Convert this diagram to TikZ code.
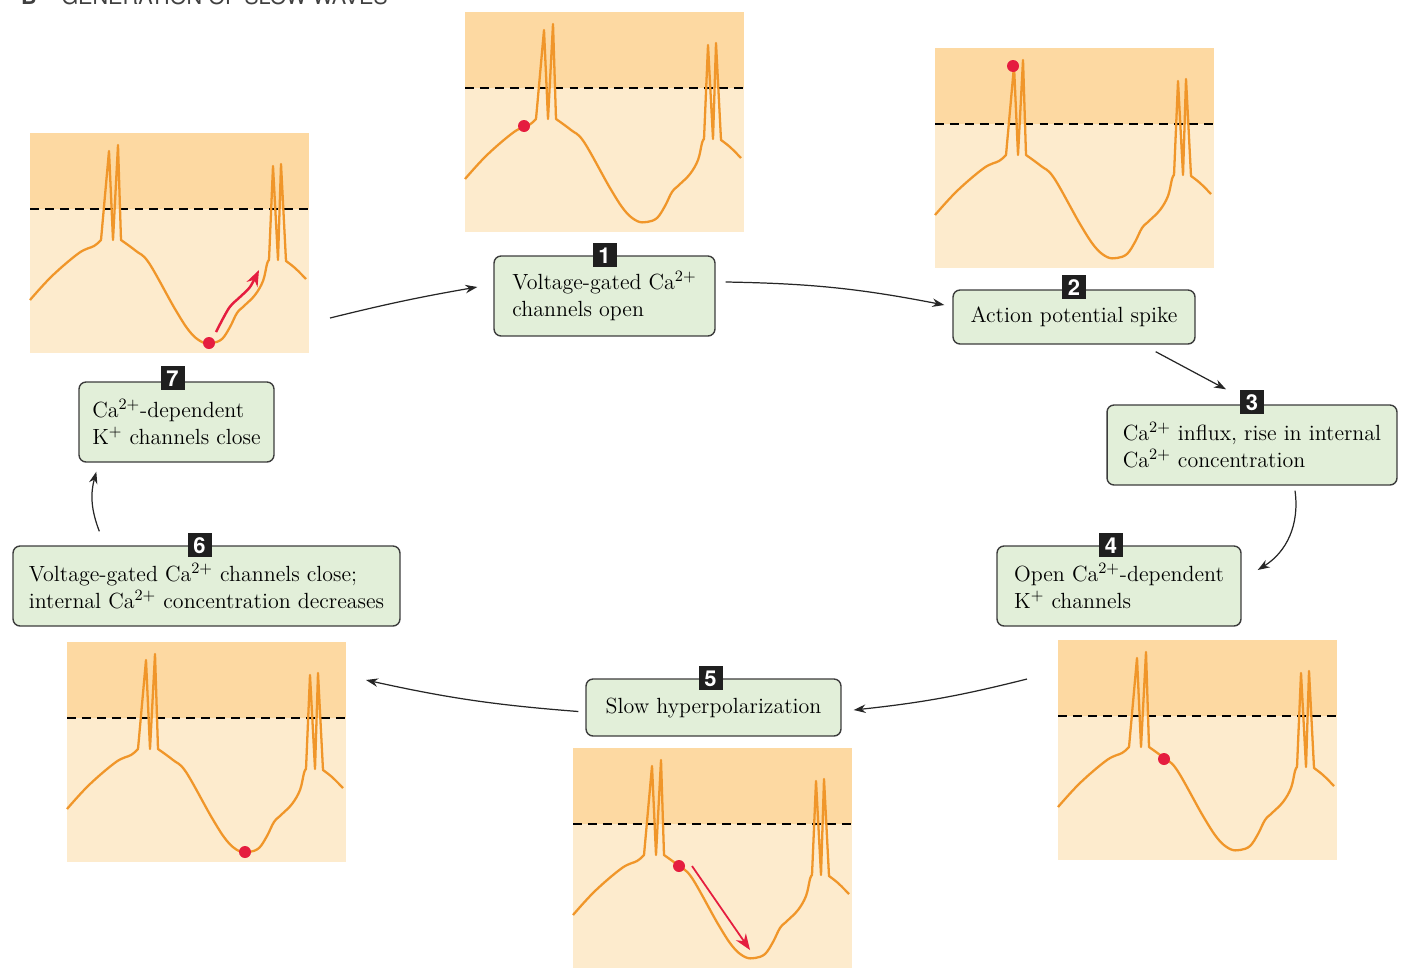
\documentclass[tikz,border=0pt]{standalone}
\usepackage{fontspec}
\newfontfamily\headfont{TeX Gyre Heros}
\usetikzlibrary{arrows.meta,calc,positioning}

\definecolor{bandlo}{HTML}{FDEBCD}
\definecolor{bandhi}{HTML}{FDD9A2}
\definecolor{tracec}{HTML}{F0962A}
\definecolor{marker}{HTML}{E51D3F}
\definecolor{boxfill}{HTML}{E2EFD9}
\definecolor{boxline}{HTML}{3C3C3C}

\tikzset{
  stepbox/.style={draw=boxline, fill=boxfill, rounded corners=4pt, line width=0.8pt,
    align=left, inner sep=0pt, font=\fontsize{12.5}{15.5}\selectfont},
  badge/.style={fill=black!88, text=white, font=\headfont\bfseries\fontsize{12.5}{12.5}\selectfont,
    minimum width=0.48cm, minimum height=0.48cm, inner sep=0pt},
  trace/.style={draw=tracec, line width=1.3pt, line join=round},
  thresh/.style={draw=black, line width=1pt, dash pattern=on 5pt off 3.5pt},
  flow/.style={draw=black!85, line width=0.7pt, -{Stealth[length=2.4mm,width=1.7mm]}},
  move/.style={draw=marker, line width=1.4pt, -{Stealth[length=3.2mm,width=2.4mm]}}
}

% membrane potential trace of one panel (panel is 279 x 220 units)
\newcommand\slowwave{%
  \draw[trace] plot[smooth, tension=0.6] coordinates {(0,167) (22,143) (49,120) (64,113) (71,107)}
    -- (79,18) -- (83,107) -- (88,12) -- (91,107)
    -- plot[smooth, tension=0.6] coordinates {(91,107) (106,118) (119,130) (145,176) (160,199)
       (172,209) (182,210) (192,206) (200,194) (207,180) (214,173) (225,162) (233,148) (237,131) (239,127)}
    -- (243,33) -- (248,127) -- (251,31) -- (256,128)
    -- plot[smooth, tension=0.6] coordinates {(256,128) (265,135) (276,146)};}

\begin{document}
\begin{tikzpicture}[x=0.02cm, y=-0.02cm]
  \useasboundingbox (0,0) rectangle (1408,970);

  \node[anchor=base west, text=black!75, font=\headfont\fontsize{12.3}{14}\selectfont] (title) at (15,5)
    {\textbf{B}\hspace{14pt}GENERATION OF SLOW WAVES};

  % panels: origin x/y, dot x/y
  \foreach \px/\py/\dx/\dy in {465/12/59/114, 935/48/78/18, 1058/640/106/119,
                               573/748/106/118, 67/642/178/210, 30/133/179/210}{
    \begin{scope}[shift={(\px,\py)}]
      \fill[bandlo] (0,0) rectangle (279,220);
      \fill[bandhi] (0,0) rectangle (279,76);
      \draw[thresh] (0,76) -- (279,76);
      \slowwave
      \fill[marker] (\dx,\dy) circle (0.12cm);
    \end{scope}
  }
  % red moves
  \draw[move] plot[smooth] coordinates {(216,332) (229,308) (240,297) (250,287) (259,270)};
  \draw[move, line width=1pt] (692,866) -- (750,950);

  % steps
  \node[stepbox, minimum width=4.42cm, minimum height=1.6cm] (b1) at (604.5,296)
    {Voltage-gated Ca$^{2+}$\\channels open};
  \node[stepbox, minimum width=4.84cm, minimum height=1.08cm] (b2) at (1074,317)
    {Action potential spike};
  \node[stepbox, minimum width=5.8cm, minimum height=1.6cm] (b3) at (1252,445)
    {Ca$^{2+}$ influx, rise in internal\\Ca$^{2+}$ concentration};
  \node[stepbox, minimum width=4.88cm, minimum height=1.6cm] (b4) at (1119,586)
    {Open Ca$^{2+}$-dependent\\K$^{+}$ channels\hspace{6.2em}};
  \node[stepbox, minimum width=5.1cm, minimum height=1.14cm] (b5) at (713.5,707.5)
    {Slow hyperpolarization};
  \node[stepbox, minimum width=7.74cm, minimum height=1.6cm] (b6) at (206.5,586)
    {Voltage-gated Ca$^{2+}$ channels close;\\internal Ca$^{2+}$ concentration decreases};
  \node[stepbox, minimum width=3.9cm, minimum height=1.6cm] (b7) at (176.5,422)
    {Ca$^{2+}$-dependent\\K$^{+}$ channels close};

  \node[badge] (n1) at (b1.north) {1};
  \node[badge] (n2) at ($(b2.north)+(0,-2)$) {2};
  \node[badge] (n3) at ($(b3.north)+(0,-2)$) {3};
  \node[badge] (n4) at ($(b4.north)+(-8,0)$) {4};
  \node[badge] (n5) at ($(b5.north)+(-3,0)$) {5};
  \node[badge] (n6) at ($(b6.north)+(-7,0)$) {6};
  \node[badge] (n7) at ($(b7.north)+(-4,-3)$) {7};

  % free ends near the traces
  \coordinate (c7) at (330,318);
  \coordinate (c4) at (1027,679);
  \coordinate (c6) at (366,680);

  \draw[flow] (c7) to[bend left=2] ($(b1.west)+(-16,-9)$);
  \draw[flow] ($(b1.east)+(10,-14)$) to[bend left=5] ($(b2.west)+(-8,-12)$);
  \draw[flow] ($(b2.south east)+(-40,7)$) -- ($(b3.north)+(-26,-15)$);
  \draw[flow] ($(b3.south)+(43,5)$) to[bend left=33] ($(b4.east)+(16,-16)$);
  \draw[flow] (c4) to[bend left=4] ($(b5.east)+(12,2.5)$);
  \draw[flow] ($(b5.west)+(-7,4)$) to[bend left=4] (c6);
  \draw[flow] ($(b6.north west)+(87,-14)$) to[bend left=18] ($(b7.south west)+(18,9)$);
\end{tikzpicture}
\end{document}
